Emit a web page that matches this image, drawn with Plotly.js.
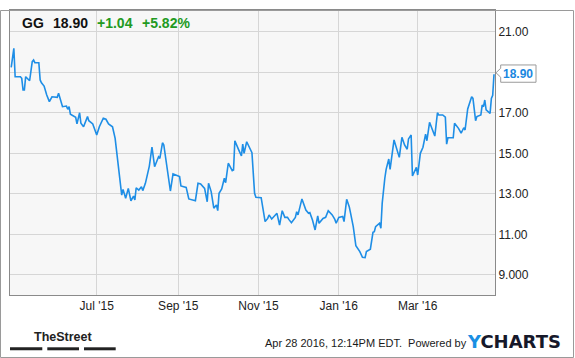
<!DOCTYPE html>
<html>
<head>
<meta charset="utf-8">
<script src="https://cdn.plot.ly/plotly-3.0.1.min.js"></script>
<style>
html,body{margin:0;padding:0;background:#fff;}
#chart{width:575px;height:358px;}
</style>
</head>
<body>
<div id="chart"></div>
<script>
// ---- data ----
const dates = [
 '2015-04-27','2015-04-29','2015-04-30',
 '2015-05-04','2015-05-05','2015-05-06','2015-05-07','2015-05-08','2015-05-11','2015-05-13','2015-05-14','2015-05-15','2015-05-18','2015-05-19','2015-05-20','2015-05-22','2015-05-24','2015-05-26','2015-05-28',
 '2015-06-01','2015-06-02','2015-06-05','2015-06-08','2015-06-09','2015-06-10','2015-06-11','2015-06-15','2015-06-16','2015-06-18','2015-06-19','2015-06-21','2015-06-24','2015-06-25','2015-06-28',
 '2015-07-01','2015-07-03','2015-07-06','2015-07-08','2015-07-10','2015-07-13','2015-07-15','2015-07-20','2015-07-21','2015-07-23','2015-07-25','2015-07-27','2015-07-29','2015-07-30','2015-07-31',
 '2015-08-02','2015-08-04','2015-08-05','2015-08-07','2015-08-10','2015-08-12','2015-08-14','2015-08-17','2015-08-18','2015-08-20','2015-08-21','2015-08-26','2015-08-28',
 '2015-09-02','2015-09-03','2015-09-07','2015-09-09','2015-09-14','2015-09-16','2015-09-18','2015-09-21','2015-09-23','2015-09-24','2015-09-26','2015-09-28','2015-09-30',
 '2015-10-01','2015-10-02','2015-10-04','2015-10-06','2015-10-07','2015-10-09','2015-10-12','2015-10-13','2015-10-14','2015-10-17','2015-10-19','2015-10-20','2015-10-21','2015-10-23','2015-10-26','2015-10-27','2015-10-29','2015-10-30',
 '2015-11-03','2015-11-06','2015-11-08','2015-11-09','2015-11-11','2015-11-15','2015-11-17','2015-11-19','2015-11-21','2015-11-23','2015-11-24','2015-11-26','2015-11-29','2015-11-30',
 '2015-12-01','2015-12-04','2015-12-07','2015-12-09','2015-12-10','2015-12-12','2015-12-14','2015-12-16','2015-12-17','2015-12-20','2015-12-22','2015-12-24','2015-12-27','2015-12-29','2015-12-30',
 '2016-01-01','2016-01-04','2016-01-05','2016-01-07','2016-01-09','2016-01-10','2016-01-12','2016-01-14','2016-01-17','2016-01-19','2016-01-21','2016-01-22','2016-01-25','2016-01-27','2016-01-28','2016-01-29',
 '2016-02-01','2016-02-02','2016-02-03','2016-02-05','2016-02-06','2016-02-08','2016-02-09','2016-02-12','2016-02-14','2016-02-16','2016-02-18','2016-02-20','2016-02-22','2016-02-23','2016-02-25','2016-02-26','2016-02-29',
 '2016-03-01','2016-03-03','2016-03-05','2016-03-07','2016-03-08','2016-03-10','2016-03-12','2016-03-14','2016-03-16','2016-03-17','2016-03-20','2016-03-22','2016-03-23','2016-03-24','2016-03-28','2016-03-29',
 '2016-04-01','2016-04-03','2016-04-05','2016-04-06','2016-04-08','2016-04-11','2016-04-12','2016-04-14','2016-04-15','2016-04-18','2016-04-19','2016-04-20','2016-04-21','2016-04-22','2016-04-25','2016-04-26','2016-04-27','2016-04-28'
];
const prices = [
 19.24,20.18,18.78,
 18.78,18.70,18.12,18.12,18.78,18.58,19.52,19.60,19.47,19.47,18.62,18.48,18.32,17.88,17.55,17.79,
 17.76,17.96,17.30,17.33,17.17,17.30,16.93,16.78,16.45,17.00,16.48,16.31,16.81,16.61,16.45,
 15.90,16.31,16.73,16.68,16.45,16.31,15.74,12.94,13.22,12.78,13.27,12.66,12.89,12.70,13.30,
 13.19,13.35,13.16,13.52,14.37,15.30,14.34,14.83,14.75,15.52,15.41,13.14,13.98,
 13.85,13.39,13.32,12.75,12.66,13.52,13.49,13.27,12.61,13.52,13.11,12.29,12.45,
 12.17,13.03,13.24,13.77,13.55,14.51,14.14,14.18,15.62,15.16,14.87,15.45,15.00,15.57,15.11,15.03,13.03,12.83,
 12.81,11.63,11.79,11.96,11.76,12.04,11.46,12.17,11.84,11.84,11.74,11.58,11.84,12.12,
 11.96,12.75,12.20,12.04,12.07,11.71,11.22,11.91,11.55,11.79,11.84,12.17,11.96,11.74,11.55,
 11.84,11.88,11.63,12.73,12.35,12.04,11.38,10.44,10.15,9.87,9.85,10.15,10.27,11.10,11.13,11.38,
 11.55,11.30,12.53,13.77,14.21,14.72,14.21,15.66,15.16,14.80,15.79,15.41,15.20,15.71,15.90,13.88,14.31,
 13.93,15.00,15.30,15.95,15.62,16.53,16.15,15.85,17.00,16.89,16.89,16.78,15.45,15.77,15.77,16.48,
 16.23,15.99,16.26,16.15,17.19,17.79,17.71,16.61,16.81,16.89,17.38,17.30,17.63,17.14,16.97,17.71,17.86,18.90
];
const yTickVals = [9, 11, 13, 15, 17, 19, 21];
const yTickText = ['9.000', '11.00', '13.00', '15.00', '17.00', '', '21.00'];
const xTickVals = ['2015-07-01', '2015-09-01', '2015-11-01', '2016-01-01', '2016-03-01'];
const xTickText = ["Jul '15", "Sep '15", "Nov '15", "Jan '16", "Mar '16"];
const ticker = 'GG';
const lastLabel = '18.90';
const changeAbs = '+1.04';
const changePct = '+5.82%';
const stampText = 'Apr 28 2016, 12:14PM EDT.&nbsp; Powered by';

// ---- layout ----
const yRange = [8.01, 22.07];
const xRange = ['2015-04-26 02:00', '2016-04-28 18:00'];
const lastVal = prices[prices.length - 1];
const lastYPaper = (lastVal - yRange[0]) / (yRange[1] - yRange[0]);

const FONT = 'Liberation Sans, Arial, sans-serif';
const lineBlue = '#1e8ee6';
const green = '#229a22';

const trace = {
  x: dates, y: prices, type: 'scatter', mode: 'lines',
  line: {color: lineBlue, width: 1.6}, hoverinfo: 'skip'
};

function px(xs, ys, text, font, anchor, extra) {
  return Object.assign({
    xref: 'paper', yref: 'paper', x: 0, y: 1, xshift: xs, yshift: ys,
    text: text, showarrow: false, xanchor: anchor || 'left', yanchor: 'middle',
    font: font, borderpad: 0, borderwidth: 0
  }, extra || {});
}

const hdrFont = {family: FONT, size: 14, color: '#111'};
const hdrGreen = {family: FONT, size: 14, color: green};

const annotations = [
  px(12, -13.3, '<b>' + ticker + '</b>', hdrFont),
  px(43, -13.3, '<b>' + lastLabel + '</b>', hdrFont),
  px(87, -13.3, '<b>' + changeAbs + '</b>', hdrGreen),
  px(132, -13.3, '<b>' + changePct + '</b>', hdrGreen),
  // last price label
  {xref: 'paper', yref: 'paper', x: 1, y: lastYPaper, xshift: 23.3, yshift: 0.6,
   text: '<b>' + lastLabel + '</b>', showarrow: false, xanchor: 'center', yanchor: 'middle',
   font: {family: FONT, size: 12, color: '#1a87e0'}},
  // footer
  {xref: 'paper', yref: 'paper', x: 0, y: 0, xshift: 53, yshift: -42,
   text: '<b>TheStreet</b>', showarrow: false, xanchor: 'center', yanchor: 'middle',
   font: {family: FONT, size: 12.5, color: '#222'}},
  {xref: 'paper', yref: 'paper', x: 0, y: 0, xshift: 253.3, yshift: -48,
   text: stampText, showarrow: false, xanchor: 'left', yanchor: 'middle',
   font: {family: FONT, size: 11, color: '#1a1a1a'}},
  {xref: 'paper', yref: 'paper', x: 0, y: 0, xshift: 553.3, yshift: -46.8,
   text: '<b><span style="color:#1a8fe3">Y</span>CHARTS</b>', showarrow: false, xanchor: 'right', yanchor: 'middle',
   font: {family: 'DejaVu Sans, sans-serif', size: 18, color: '#16182a'}}
];

const barStyle = {type: 'rect', xref: 'paper', yref: 'paper', xsizemode: 'pixel', ysizemode: 'pixel',
  xanchor: 0, yanchor: 0, fillcolor: '#222', line: {width: 0}, layer: 'above'};
const shapes = [
  Object.assign({}, barStyle, {x0: 0, x1: 32.3, y0: -52.3, y1: -55.3}),
  Object.assign({}, barStyle, {x0: 37.3, x1: 69, y0: -52.3, y1: -55.3}),
  Object.assign({}, barStyle, {x0: 74, x1: 105.7, y0: -52.3, y1: -55.3}),
  // outer frame
  {type: 'rect', xref: 'paper', yref: 'paper', xsizemode: 'pixel', ysizemode: 'pixel',
   xanchor: 0, yanchor: 0, x0: -9.5, x1: 563.5, y0: -62.5, y1: 284.5,
   line: {color: '#9a9a9a', width: 1}, fillcolor: 'rgba(0,0,0,0)', layer: 'above'},
  // callout box for last price
  {type: 'path', xref: 'paper', yref: 'paper', xsizemode: 'pixel', ysizemode: 'pixel',
   xanchor: 1, yanchor: lastYPaper,
   path: 'M 1,1.5 L 5.7,6 L 5.7,9.3 L 41,9.3 L 41,-8 L 5.7,-8 L 5.7,-3 Z',
   fillcolor: '#ffffff', line: {color: '#9a9a9a', width: 1}, layer: 'above'}
];

const layout = {
  width: 575, height: 358,
  margin: {l: 10, r: 80, t: 10, b: 63, pad: 0},
  paper_bgcolor: '#ffffff', plot_bgcolor: '#f7f7f7',
  showlegend: false,
  font: {family: FONT, size: 12, color: '#222'},
  xaxis: {
    type: 'date', range: xRange, tickvals: xTickVals, ticktext: xTickText,
    showgrid: true, gridcolor: '#d6d6d6', gridwidth: 1, zeroline: false,
    showline: true, mirror: true, linecolor: '#8a8a8a', linewidth: 1,
    ticks: '', tickfont: {family: FONT, size: 12, color: '#222'}, fixedrange: true
  },
  yaxis: {
    range: yRange, side: 'right', tickvals: yTickVals, ticktext: yTickText,
    showgrid: true, gridcolor: '#d6d6d6', gridwidth: 1, zeroline: false,
    showline: true, mirror: true, linecolor: '#8a8a8a', linewidth: 1,
    ticks: '', tickfont: {family: FONT, size: 12, color: '#222'}, fixedrange: true
  },
  annotations: annotations,
  shapes: shapes
};

Plotly.newPlot('chart', [trace], layout, {displayModeBar: false, staticPlot: true});
</script>
</body>
</html>
